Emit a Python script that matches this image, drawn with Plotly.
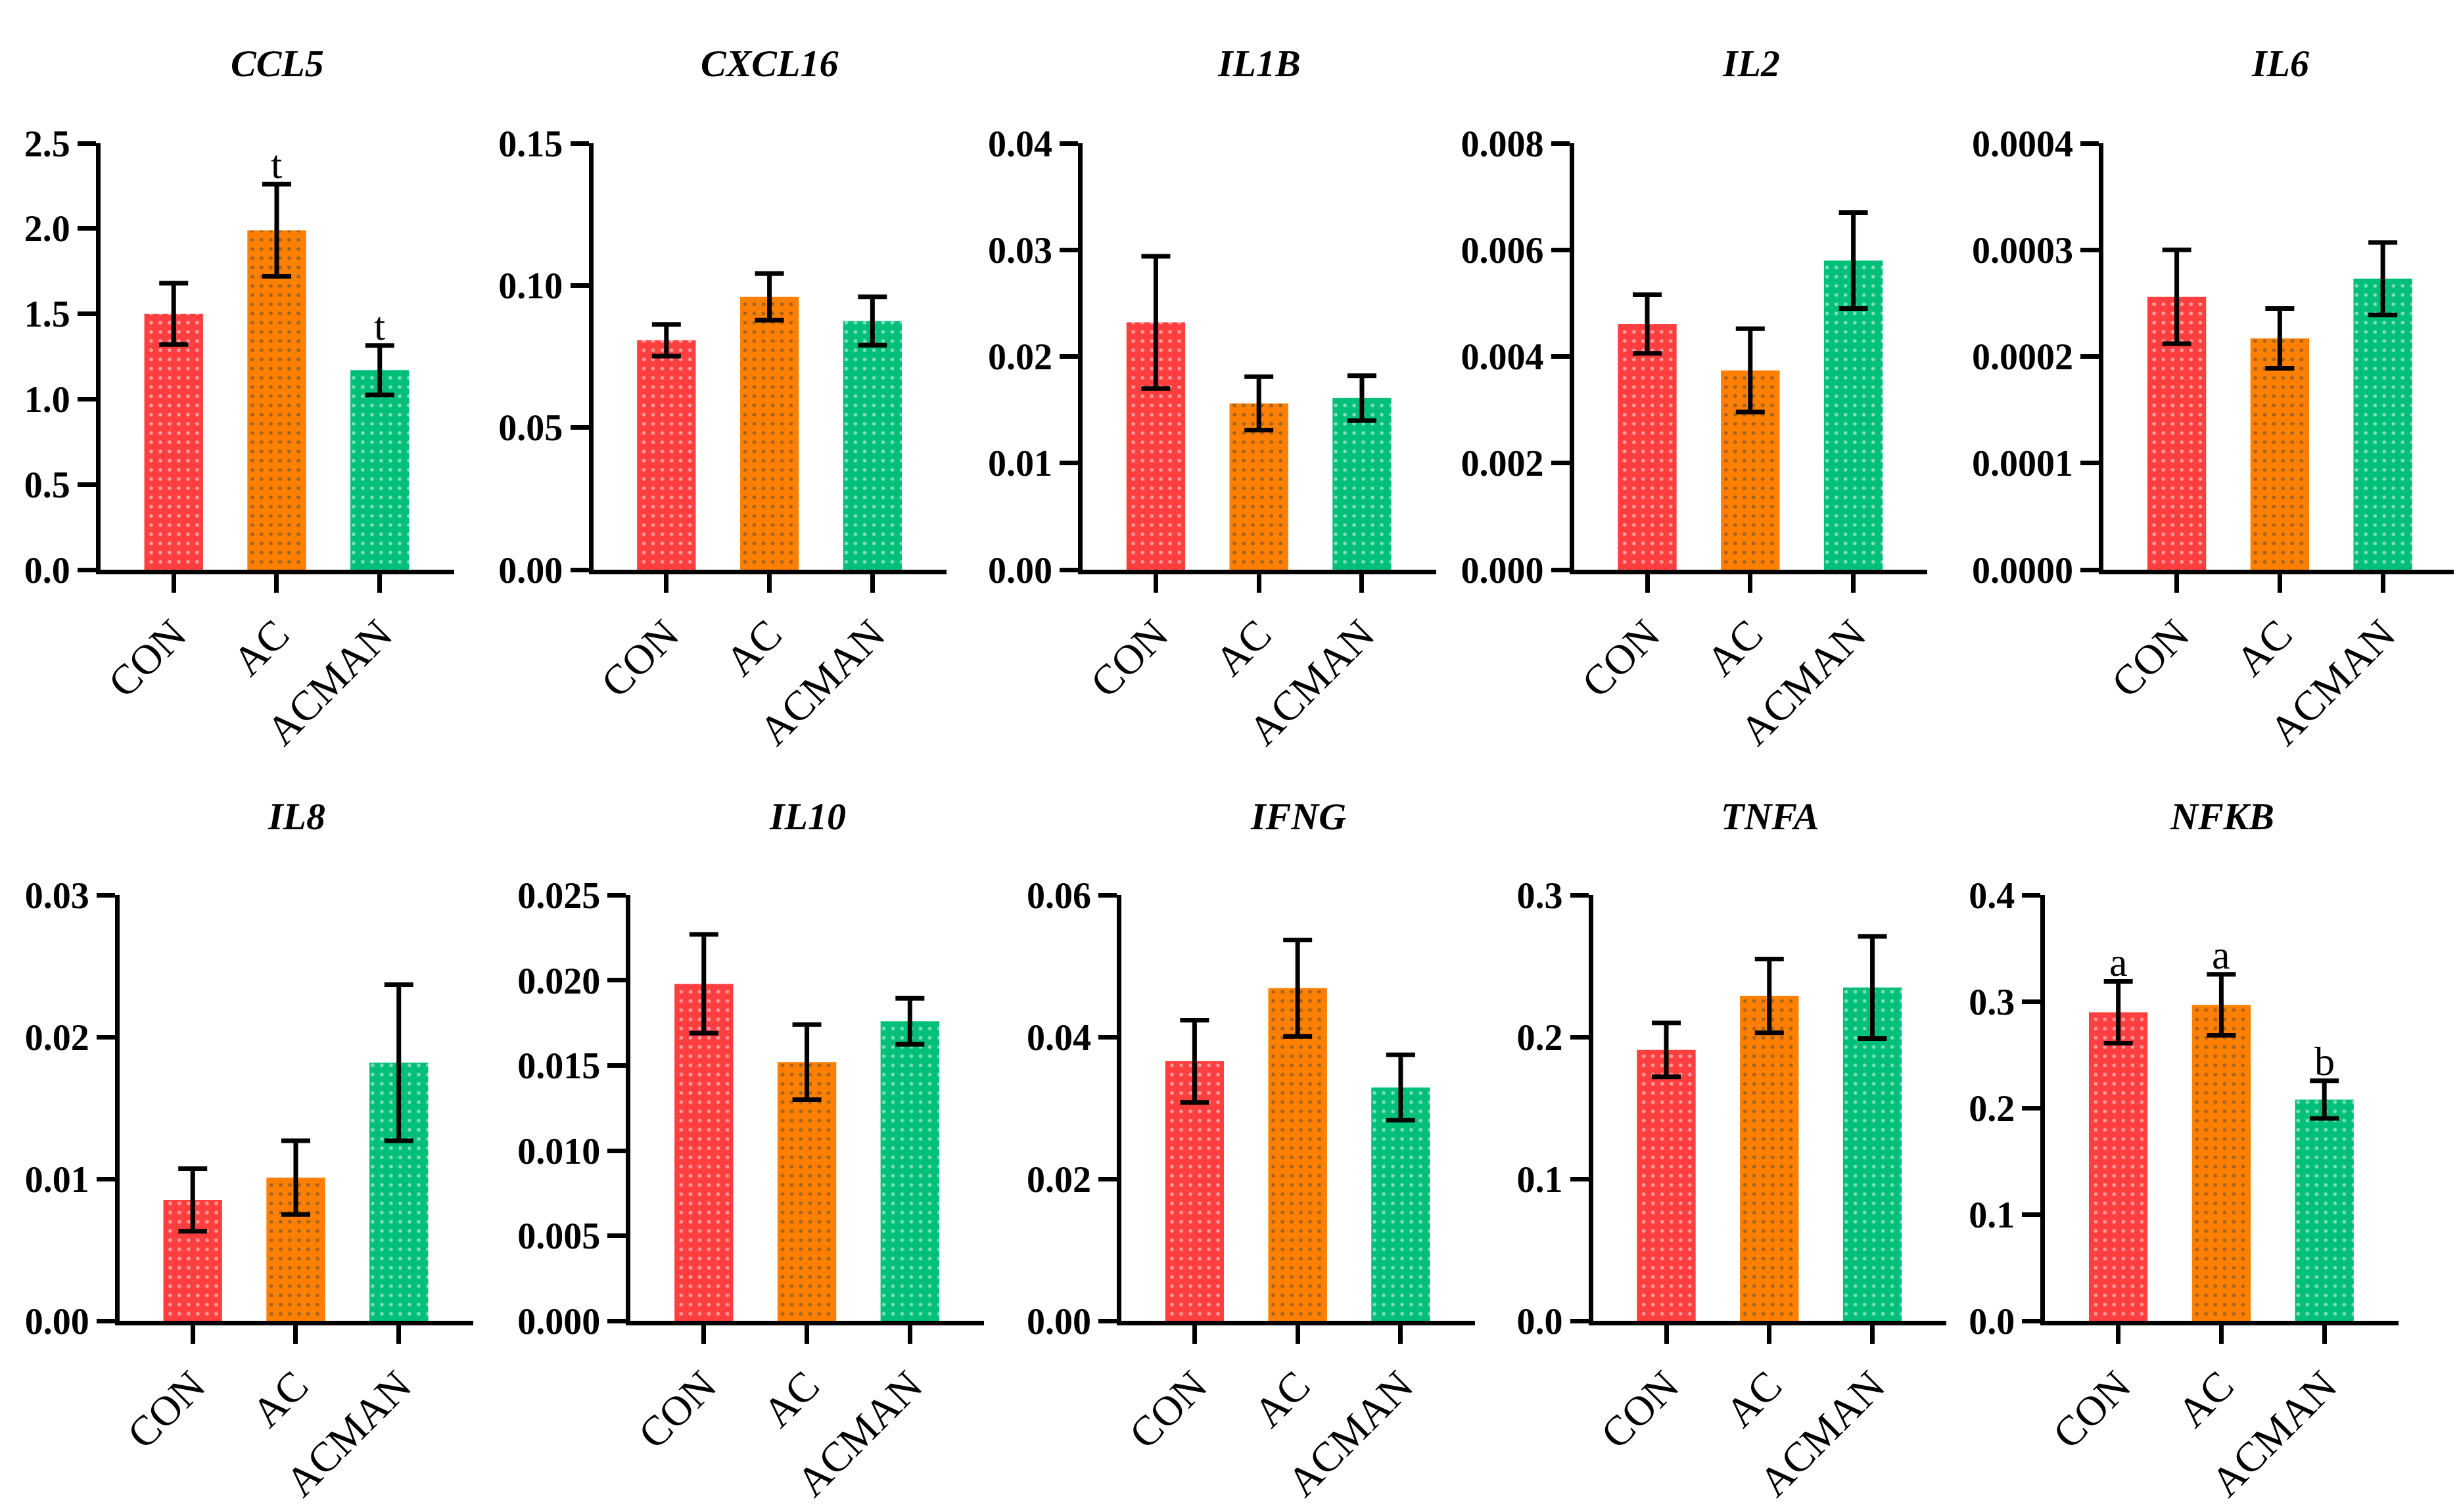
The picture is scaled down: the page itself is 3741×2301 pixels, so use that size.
import plotly.graph_objects as go

# %%
genes = ["CCL5", "CXCL16", "IL1B", "IL2", "IL6", "IL8", "IL10", "IFNG", "TNFA", "NFKB"]
groups = ["CON", "AC", "ACMAN"]

con_mean = [1.50, 0.0807, 0.0232, 0.00461, 0.000256, 0.00853, 0.0198, 0.0366, 0.191, 0.290]
con_sem = [0.18, 0.0056, 0.0062, 0.00055, 0.000044, 0.0022, 0.0029, 0.0058, 0.019, 0.029]
ac_mean = [1.99, 0.0960, 0.0156, 0.00374, 0.000217, 0.0101, 0.0152, 0.0469, 0.229, 0.297]
ac_sem = [0.27, 0.0082, 0.0025, 0.00078, 0.000028, 0.0026, 0.0022, 0.0068, 0.026, 0.0286]
acman_mean = [1.17, 0.0875, 0.0161, 0.0058, 0.000273, 0.0182, 0.0176, 0.0329, 0.235, 0.208]
acman_sem = [0.145, 0.0085, 0.0021, 0.0009, 0.000034, 0.0055, 0.00135, 0.0046, 0.036, 0.0177]

y_max = [2.5, 0.15, 0.04, 0.008, 0.0004, 0.03, 0.025, 0.06, 0.3, 0.4]
y_step = [0.5, 0.05, 0.01, 0.002, 0.0001, 0.01, 0.005, 0.02, 0.1, 0.1]
y_decimals = [1, 2, 2, 3, 4, 2, 3, 2, 1, 1]

# significance letters
sig_gene = ["CCL5", "CCL5", "NFKB", "NFKB", "NFKB"]
sig_group = ["AC", "ACMAN", "CON", "AC", "ACMAN"]
sig_text = ["t", "t", "a", "a", "b"]

# %%
W, H = 3741, 2301
left_px = [143, 893, 1638, 2386, 3192, 172, 950, 1697, 2415, 3103]
plot_w = 538
row_top = [185, 1361]
row_bottom = [852, 2027]
title_y = [60, 1238]

bar_colors = ["#FF3E40", "#FF8000", "#00BF78"]
dot_colors = ["#2F95A8", "#2F84D0", "#9A6E92"]
serif = "Liberation Serif, serif"

fig = go.Figure()
annotations = []

for i, gene in enumerate(genes):
    row = i // 5
    n = "" if i == 0 else str(i + 1)
    means = [con_mean[i], ac_mean[i], acman_mean[i]]
    sems = [con_sem[i], ac_sem[i], acman_sem[i]]

    fig.add_trace(go.Bar(
        x=groups, y=means, width=0.57,
        marker=dict(color=bar_colors, line=dict(width=0),
                    pattern=dict(shape=".", fgcolor=dot_colors, size=14, solidity=0.12)),
        error_y=dict(type="data", array=sems, color="black", thickness=7, width=22),
        xaxis="x" + n, yaxis="y" + n, showlegend=False,
    ))

    x0 = left_px[i] / W
    x1 = (left_px[i] + plot_w) / W
    y0 = 1 - row_bottom[row] / H
    y1 = 1 - row_top[row] / H

    nticks = int(round(y_max[i] / y_step[i]))
    tvals = [k * y_step[i] for k in range(nticks + 1)]
    ttext = [f"{v:.{y_decimals[i]}f}" for v in tvals]

    fig.update_layout({
        "xaxis" + n: dict(
            domain=[x0, x1], anchor="y" + n, type="category",
            range=[-0.71, 2.72], showline=True, linecolor="black", linewidth=7,
            ticks="outside", ticklen=28, tickwidth=7, tickcolor="black",
            tickangle=-45, tickfont=dict(family=serif, size=64, color="black"),
            showgrid=False, zeroline=False,
        ),
        "yaxis" + n: dict(
            domain=[y0, y1], anchor="x" + n, range=[0, y_max[i]],
            tickvals=tvals, ticktext=ttext,
            showline=True, linecolor="black", linewidth=7,
            ticks="outside", ticklen=28, tickwidth=7, tickcolor="black",
            tickfont=dict(family=serif, size=56, color="black", weight="bold"),
            showgrid=False, zeroline=False,
        ),
    })

    annotations.append(dict(
        text=f"<b><i>{gene}</i></b>", x=(x0 + x1) / 2, y=1 - title_y[row] / H,
        xref="paper", yref="paper", xanchor="center", yanchor="middle",
        showarrow=False, font=dict(family=serif, size=58, color="black"),
    ))

for g, grp, t in zip(sig_gene, sig_group, sig_text):
    i = genes.index(g)
    j = groups.index(grp)
    n = "" if i == 0 else str(i + 1)
    top = [con_mean[i], ac_mean[i], acman_mean[i]][j] + [con_sem[i], ac_sem[i], acman_sem[i]][j]
    annotations.append(dict(
        text=t, x=grp, y=top, xref="x" + n, yref="y" + n,
        xanchor="center", yanchor="bottom", showarrow=False, yshift=-6,
        font=dict(family=serif, size=62, color="black"),
    ))

fig.update_layout(
    width=W, height=H, autosize=False,
    margin=dict(l=0, r=0, t=0, b=0),
    paper_bgcolor="white", plot_bgcolor="white",
    annotations=annotations,
)

fig.write_html("out.html")
